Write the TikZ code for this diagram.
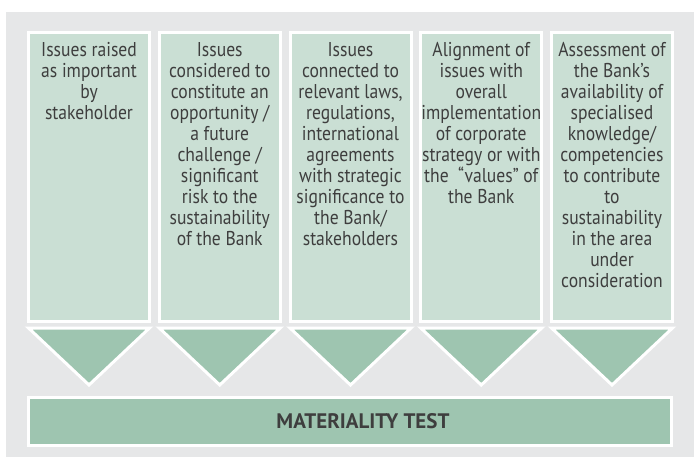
\documentclass[tikz,border=0pt]{standalone}
\usepackage{fontspec}
\setmainfont{PT Sans}
\newfontfamily\narrowfont[FakeStretch=0.88,Ligatures=TeX]{PT Sans}
\definecolor{bggrey}{HTML}{E6E7E8}
\definecolor{lightgreen}{HTML}{CADFD4}
\definecolor{midgreen}{HTML}{9EC5B0}
\definecolor{txt}{HTML}{3E3E3E}
\begin{document}
\begin{tikzpicture}[x=1pt,y=-1pt,
  crit/.style={fill=lightgreen,draw=white,line width=3pt},
  arrowtri/.style={fill=midgreen,draw=white,line width=3pt,line join=miter},
  bar/.style={fill=midgreen,draw=white,line width=3pt},
  crittext/.style={anchor=north,inner sep=0pt,align=center,text=txt,
    font=\narrowfont\fontsize{20}{21}\selectfont},
  bartext/.style={inner sep=0pt,text=txt,font=\fontsize{21}{24}\selectfont\bfseries}]
\useasboundingbox (0,0) rectangle (694,458);
\fill[white] (0,0) rectangle (694,458);
\fill[bggrey] (6,12) rectangle (694,457);
\foreach \i in {0,...,4}{
  \pgfmathsetmacro{\xl}{28.5+130.75*\i}
  \pgfmathsetmacro{\xr}{\xl+121}
  \pgfmathsetmacro{\xm}{\xl+60.5}
  \draw[crit] (\xl,32) rectangle (\xr,321.5);
  \draw[arrowtri] (\xl,328) -- (\xr,328) -- (\xm,385) -- cycle;
  \coordinate (c\i) at (\xm,42.5);
}
\node[crittext] (t0) at (c0) {Issues raised\\as important\\by\\stakeholder};
\node[crittext] (t1) at (c1) {Issues\\considered to\\constitute an\\opportunity /\\a future\\challenge /\\significant\\risk to the\\sustainability\\of the Bank};
\node[crittext] (t2) at (c2) {Issues\\connected to\\relevant laws,\\regulations,\\international\\agreements\\with strategic\\significance to\\the Bank/\\stakeholders};
\node[crittext] (t3) at (c3) {Alignment of\\issues with\\overall\\implementation\\of corporate\\strategy or with\\the \ “values” of\\the Bank};
\node[crittext] (t4) at (c4) {Assessment of\\the Bank’s\\availability of\\specialised\\knowledge/\\competencies\\to contribute\\to\\sustainability\\in the area\\under\\consideration};
\draw[bar] (28.5,397.5) rectangle (671.5,445.5);
\node[bartext] (mt) at (363,421) {MATERIALITY TEST};
\end{tikzpicture}
\end{document}
